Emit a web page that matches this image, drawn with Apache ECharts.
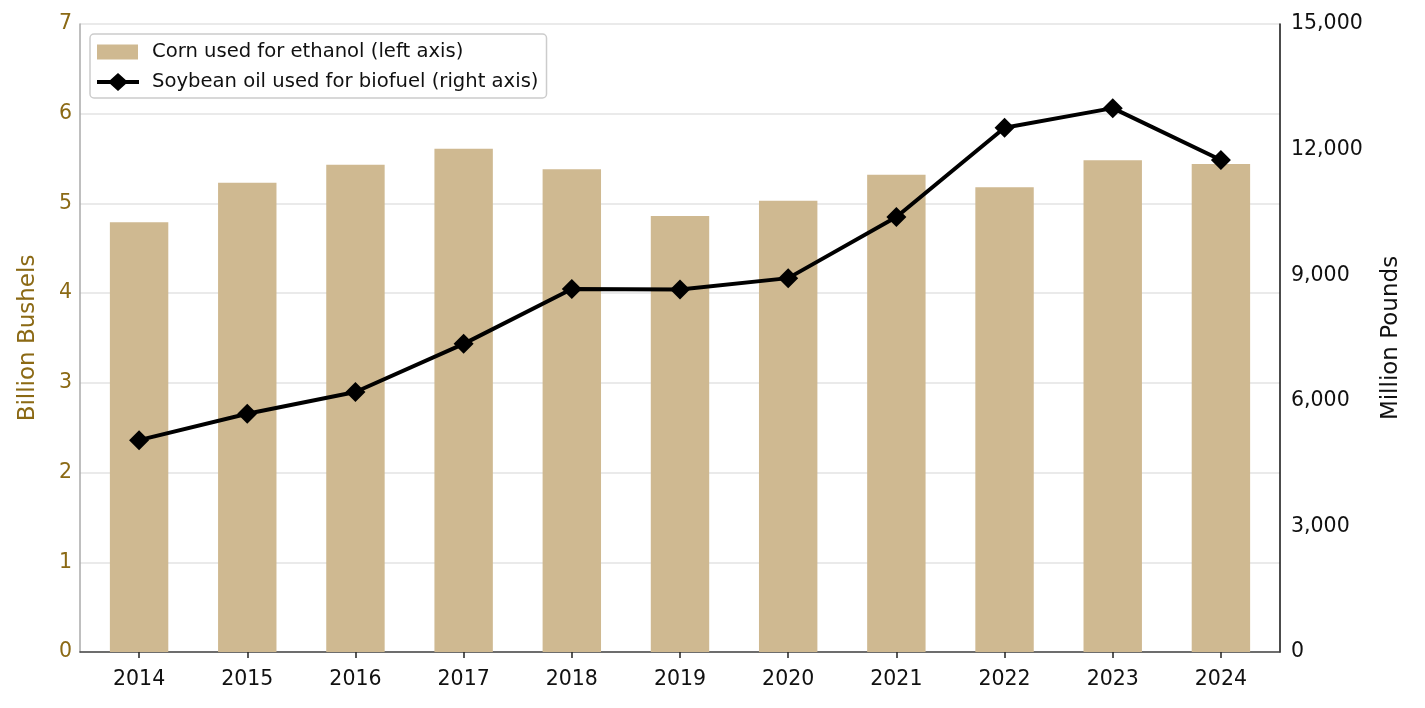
<!DOCTYPE html>
<html><head><meta charset="utf-8">
<script src="https://cdn.jsdelivr.net/npm/echarts@6/dist/echarts.min.js"></script>
<style>html,body{margin:0;padding:0;background:#fff}#c{width:1425px;height:708px}</style>
</head><body><div id="c"></div>
<script>
const years = ['2014','2015','2016','2017','2018','2019','2020','2021','2022','2023','2024'];
const cornEthanol = [4.79, 5.23, 5.43, 5.61, 5.38, 4.86, 5.03, 5.32, 5.18, 5.48, 5.44];
const soyBiofuel = [5060, 5690, 6210, 7360, 8670, 8660, 8930, 10390, 12520, 12990, 11750];
const leftTicks = {min: 0, max: 7, interval: 1};
const rightTicks = {min: 0, max: 15000, interval: 3000};

const FONT = 'DejaVu Sans';
const GOLD = '#8B6914';
const BAR = '#CFB991';
// legend icons (bounding box 50x20 fixed by the two leading moveTo points)
const barIcon = 'path://M0 0 M50 20 M0 2.5 L41 2.5 L41 17.5 L0 17.5 Z';
const lineIcon = 'path://M0 0 M50 20 M0 8 L42 8 L42 12 L0 12 Z M21 1 L31 10 L21 19 L11 10 Z';

const chart = echarts.init(document.getElementById('c'), null, {renderer: 'canvas'});
chart.setOption({
  animation: false,
  textStyle: {fontFamily: FONT},
  grid: [
    {left: 80, right: 145, top: 24, bottom: 56},
    {left: 85, right: 150, top: 24, bottom: 56}
  ],
  legend: {
    left: 90, top: 34, orient: 'vertical',
    padding: [8, 8, 6, 7],
    itemGap: 10, itemWidth: 50, itemHeight: 20,
    borderColor: '#cccccc', borderWidth: 1.5, borderRadius: 4,
    backgroundColor: 'rgba(255,255,255,0.85)',
    textStyle: {fontFamily: FONT, fontSize: 19.6, color: '#111'},
    data: [
      {name: 'Corn used for ethanol (left axis)', icon: barIcon, itemStyle: {color: BAR, borderWidth: 0}},
      {name: 'Soybean oil used for biofuel (right axis)', icon: lineIcon, itemStyle: {color: '#000', borderWidth: 0}}
    ]
  },
  xAxis: [
    {gridIndex: 0, type: 'value', min: 0, max: 1,
      axisLine: {show: true, lineStyle: {color: '#444', width: 1.5}},
      axisTick: {show: false}, axisLabel: {show: false}, splitLine: {show: false}},
    {gridIndex: 1, type: 'category', data: years, boundaryGap: true,
      axisLine: {show: false},
      axisTick: {show: true, alignWithLabel: true, length: 6, lineStyle: {color: '#222', width: 1.5}},
      axisLabel: {fontFamily: FONT, fontSize: 20.5, color: '#111', margin: 17}}
  ],
  yAxis: [
    {gridIndex: 0, type: 'value', position: 'left', ...leftTicks,
      name: 'Billion Bushels', nameLocation: 'middle', nameRotate: 90, nameGap: 40,
      nameTextStyle: {fontFamily: FONT, fontSize: 23, color: GOLD},
      axisLine: {show: true, lineStyle: {color: '#aaaaaa', width: 1.5}},
      axisTick: {show: false},
      axisLabel: {fontFamily: FONT, fontSize: 20.5, color: GOLD, margin: 8, padding: [4, 0, 0, 0]},
      splitLine: {show: true, lineStyle: {color: '#e3e3e3', width: 1.5}}},
    {gridIndex: 0, type: 'value', position: 'right', ...rightTicks,
      name: 'Million Pounds', nameLocation: 'middle', nameRotate: 90, nameGap: 100,
      nameTextStyle: {fontFamily: FONT, fontSize: 23, color: '#111'},
      axisLine: {show: true, lineStyle: {color: '#111', width: 1.5}},
      axisTick: {show: false},
      axisLabel: {fontFamily: FONT, fontSize: 20.5, color: '#111', margin: 11, padding: [4, 0, 0, 0],
        formatter: v => v.toLocaleString('en-US')},
      splitLine: {show: false}},
    {gridIndex: 1, type: 'value', ...leftTicks, show: false, splitLine: {show: false}},
    {gridIndex: 1, type: 'value', ...rightTicks, show: false, splitLine: {show: false}}
  ],
  series: [
    {name: 'Corn used for ethanol (left axis)', type: 'bar', xAxisIndex: 1, yAxisIndex: 2,
      data: cornEthanol, barWidth: '54%', itemStyle: {color: BAR}},
    {name: 'Soybean oil used for biofuel (right axis)', type: 'line', xAxisIndex: 1, yAxisIndex: 3,
      data: soyBiofuel, symbol: 'diamond', symbolSize: 20, showSymbol: true,
      lineStyle: {color: '#000', width: 4}, itemStyle: {color: '#000'}, z: 5}
  ]
});
</script></body></html>
